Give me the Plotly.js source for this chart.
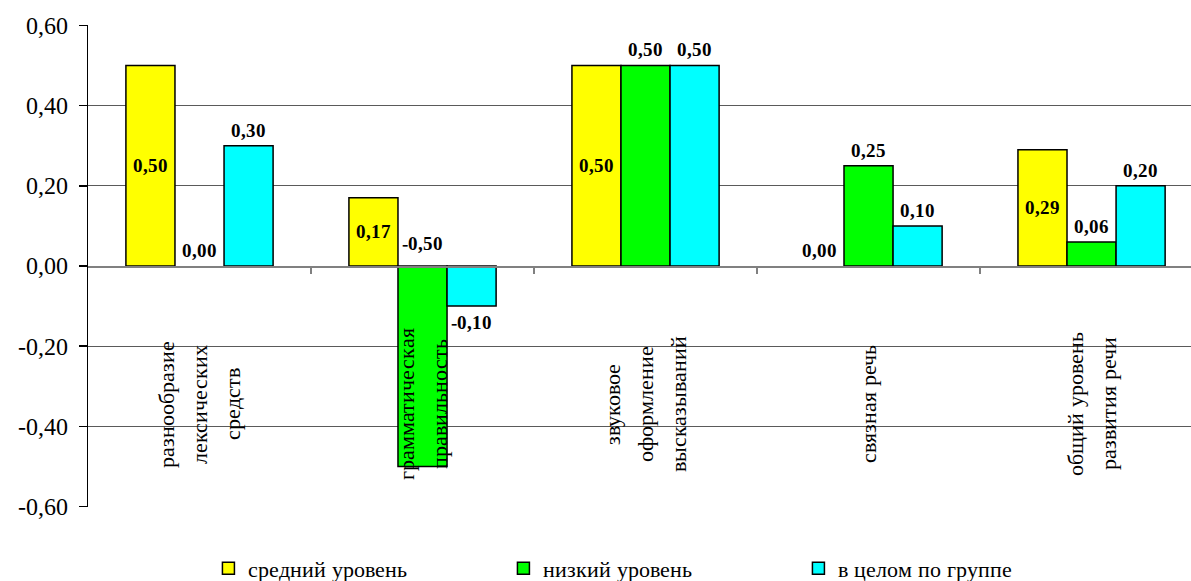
<!DOCTYPE html>
<html>
<head>
<meta charset="utf-8">
<script src="https://cdn.plot.ly/plotly-3.0.1.min.js"></script>
<style>
  @font-face {
    font-family: 'ChartSerif';
    src: local('Liberation Serif'), local('LiberationSerif'), local('Times New Roman');
    font-weight: normal;
  }
  @font-face {
    font-family: 'ChartSerif';
    src: local('Liberation Serif Bold'), local('LiberationSerif-Bold'), local('Times New Roman Bold');
    font-weight: bold;
  }
  html, body { margin: 0; padding: 0; background: #ffffff; font-family: 'Liberation Serif', serif; }
  #chart { width: 1191px; height: 581px; }
</style>
</head>
<body>
<div id="chart"></div>
<script>
// Speech-development indicators: change by group level
const categories = [
  'разнообразие<br>лексических<br>средств',
  'грамматическая<br>правильность',
  'звуковое<br>оформление<br>высказываний',
  'связная речь',
  'общий уровень<br>развития речи'
];
const seriesNames = ['средний уровень', 'низкий уровень', 'в целом по группе'];
const middleLevel = [0.50, 0.17, 0.50, 0.00, 0.29];
const lowLevel    = [0.00, -0.50, 0.50, 0.25, 0.06];
const wholeGroup  = [0.30, -0.10, 0.50, 0.10, 0.20];
const yTickValues = [-0.6, -0.4, -0.2, 0, 0.2, 0.4, 0.6];
const yTickLabels = ['-0,60', '-0,40', '-0,20', '0,00', '0,20', '0,40', '0,60'];

const seriesValues = [middleLevel, lowLevel, wholeGroup];
const seriesColors = ['#ffff00', '#00ff00', '#00ffff'];
const FONT_FAMILY = "ChartSerif, 'Liberation Serif', serif";

const BAR_GAP = 0.34;
const barWidth = (1 - BAR_GAP) / seriesValues.length;
const xPos = categories.map((_, i) => i);

function draw() {
  // bars are listed last-to-first so each legend swatch takes its style from a
  // non-empty bar; zero values get no outline since they have no height
  const traces = seriesValues.map((vals, s) => ({
    type: 'bar',
    name: seriesNames[s],
    x: xPos.slice().reverse(),
    y: vals.slice().reverse(),
    marker: {
      color: seriesColors[s],
      line: { color: '#000000', width: vals.slice().reverse().map(v => (v === 0 ? 0 : 1.5)) }
    },
    hoverinfo: 'skip'
  }));

  const fmt = v => v.toFixed(2).replace('.', ',');

  // value labels: yellow inside the bar, others just beyond the bar end
  const annotations = [];
  seriesValues.forEach((vals, s) => {
    const offset = (s - (seriesValues.length - 1) / 2) * barWidth;
    vals.forEach((v, i) => {
      const a = {
        x: i + offset, xref: 'x', yref: 'y', showarrow: false,
        text: '<b>' + fmt(v) + '</b>',
        font: { family: FONT_FAMILY, size: 19, color: '#000000' }
      };
      if (s === 0 && v !== 0) {
        a.y = v / 2; a.yanchor = 'middle';
      } else if (v >= 0 || s === 1) {
        a.y = Math.max(v, 0); a.yanchor = 'bottom'; a.yshift = v < 0 ? 10 : 3;
      } else {
        a.y = v; a.yanchor = 'top'; a.yshift = -4;
      }
      annotations.push(a);
    });
  });

  // category names, rotated, one column per line, inside the lower half of the plot
  const LINE_STEP = 33;
  categories.forEach((c, i) => {
    const lines = c.split('<br>');
    lines.forEach((line, k) => {
      annotations.push({
        x: i, y: -0.345, xref: 'x', yref: 'y', showarrow: false,
        xshift: (k - (lines.length - 1) / 2) * LINE_STEP,
        text: line, textangle: -90,
        font: { family: FONT_FAMILY, size: 22, color: '#000000' }
      });
    });
  });

  const layout = {
    width: 1191, height: 581,
    font: { family: FONT_FAMILY, color: '#000000' },
    margin: { l: 88, r: 0, t: 25, b: 74 },
    paper_bgcolor: '#ffffff', plot_bgcolor: '#ffffff',
    barmode: 'group', bargap: BAR_GAP, bargroupgap: 0,
    showlegend: true,
    legend: {
      orientation: 'h', xref: 'container', yref: 'container',
      x: 0.175, xanchor: 'left', y: 0.022, yanchor: 'middle',
      entrywidth: 250, entrywidthmode: 'pixels',
      font: { family: FONT_FAMILY, size: 21.5, color: '#000000' },
      traceorder: 'normal'
    },
    xaxis: {
      type: 'linear', range: [-0.5, 4.446],
      anchor: 'free', position: 0.5,
      showline: true, linecolor: '#808080', linewidth: 1.5,
      ticks: 'outside', tickvals: [0.5, 1.5, 2.5, 3.5], ticklen: 6,
      tickcolor: '#808080', tickwidth: 1.5,
      showticklabels: false, showgrid: false, zeroline: false, fixedrange: true
    },
    yaxis: {
      range: [-0.6008, 0.6008],
      tickvals: yTickValues, ticktext: yTickLabels,
      tickfont: { family: FONT_FAMILY, size: 24, color: '#000000' },
      ticklabelstandoff: 6,
      showgrid: true, gridcolor: '#5a5a5a', gridwidth: 1,
      showline: true, linecolor: '#000000', linewidth: 1.5,
      ticks: 'outside', ticklen: 8, tickcolor: '#000000', tickwidth: 1.5,
      zeroline: false, fixedrange: true
    },
    annotations: annotations
  };

  Plotly.newPlot('chart', traces, layout, { staticPlot: true, displayModeBar: false });
}

Promise.all([
  document.fonts.load('22px ChartSerif'),
  document.fonts.load('bold 18px ChartSerif')
]).catch(() => null).then(draw);
</script>
</body>
</html>
